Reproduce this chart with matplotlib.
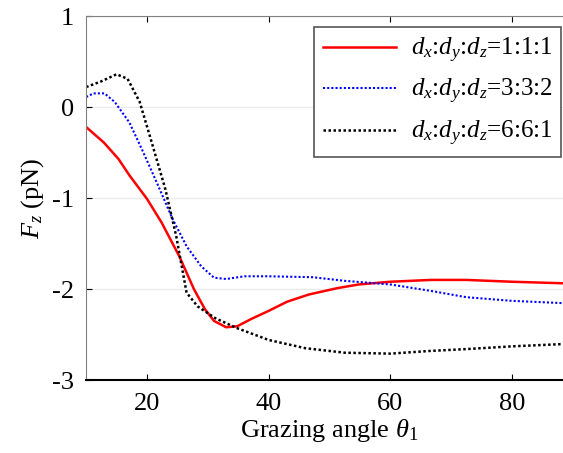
import numpy as np
import matplotlib
matplotlib.use("Agg")
import matplotlib.pyplot as plt

plt.rcParams['font.family'] = ['Liberation Serif', 'DejaVu Serif']
plt.rcParams['mathtext.fontset'] = 'custom'
plt.rcParams['mathtext.rm'] = 'Liberation Serif'
plt.rcParams['mathtext.it'] = 'Liberation Serif:italic'

# --- Data ---
x_111 = [10, 12.9, 15.3, 17.1, 20, 22.4, 25.3, 27.7, 29.5, 31, 33, 34.8, 37.1, 40,
         43, 46.6, 51.3, 54.8, 60, 66.6, 72.5, 80, 90]
y_111 = [-0.22, -0.39, -0.57, -0.75, -1.01, -1.27, -1.64, -2.0, -2.22, -2.35, -2.42,
         -2.41, -2.33, -2.24, -2.14, -2.06, -1.99, -1.95, -1.92, -1.90, -1.90, -1.92, -1.94]

x_332 = [10, 11.2, 13, 14.7, 17.1, 19.4, 21.8, 24.2, 26.5, 28.9, 31, 33, 36, 40,
         47.2, 52.5, 60, 66.6, 72.5, 80, 90]
y_332 = [0.11, 0.15, 0.15, 0.055, -0.17, -0.50, -0.86, -1.23, -1.53, -1.75, -1.875,
         -1.89, -1.86, -1.86, -1.87, -1.91, -1.95, -2.02, -2.09, -2.13, -2.16]

x_661 = [10, 12.4, 15, 16.8, 18.8, 20.6, 23, 24.8, 26.5, 28.3, 31.2, 34.8, 40,
         46, 52.5, 60, 66.6, 72.5, 80, 90]
y_661 = [0.22, 0.28, 0.36, 0.31, 0.055, -0.35, -0.90, -1.42, -2.04, -2.19, -2.32,
         -2.43, -2.56, -2.65, -2.70, -2.71, -2.68, -2.66, -2.63, -2.60]

labels = [r'$d_x$:$d_y$:$d_z$=1:1:1',
          r'$d_x$:$d_y$:$d_z$=3:3:2',
          r'$d_x$:$d_y$:$d_z$=6:6:1']

# --- Figure ---
fig = plt.figure(figsize=(5.63, 4.53), dpi=100)
ax = fig.add_axes([0.1531, 0.1611, 0.8645, 0.8035])

ax.plot(x_111, y_111, color='#ff0000', linewidth=1.8, label=labels[0])
ax.plot(x_332, y_332, color='#0000ff', linewidth=1.5, linestyle=(0, (1, 1)), label=labels[1])
ax.plot(x_661, y_661, color='black', linewidth=1.8, linestyle=(0, (1, 1)), label=labels[2])

ax.set_xlim(10, 90)
ax.set_ylim(-3, 1)
ax.set_xticks([20, 40, 60, 80])
ax.set_yticks([-3, -2, -1, 0, 1])
ax.set_yticklabels(['-3', '-2', '-1', '0', '1'])
ax.yaxis.grid(True, color='#ebebeb', linewidth=1.0)
ax.set_axisbelow(True)

ax.tick_params(direction='in', length=4, labelsize=19, top=True, right=False, pad=9)
ax.spines['left'].set_color('#808080')
ax.spines['top'].set_color('#808080')
ax.spines['right'].set_visible(False)
ax.spines['bottom'].set_color('black')
ax.spines['bottom'].set_linewidth(1.5)

ax.set_xlabel(r'Grazing angle $\theta_1$', fontsize=19, labelpad=2)
ax.set_ylabel(r'$F_z$ (pN)', fontsize=19, labelpad=4)

leg = ax.legend(loc='upper right', bbox_to_anchor=(561 / 563, 1 - 27 / 453),
                bbox_transform=fig.transFigure, borderaxespad=0, fontsize=18,
                handlelength=2.9, fancybox=False, framealpha=1, edgecolor='#555555',
                labelspacing=0.5, borderpad=0.35, handletextpad=0.6)
leg.get_frame().set_linewidth(1.2)

fig.savefig('out.png', dpi=100)
